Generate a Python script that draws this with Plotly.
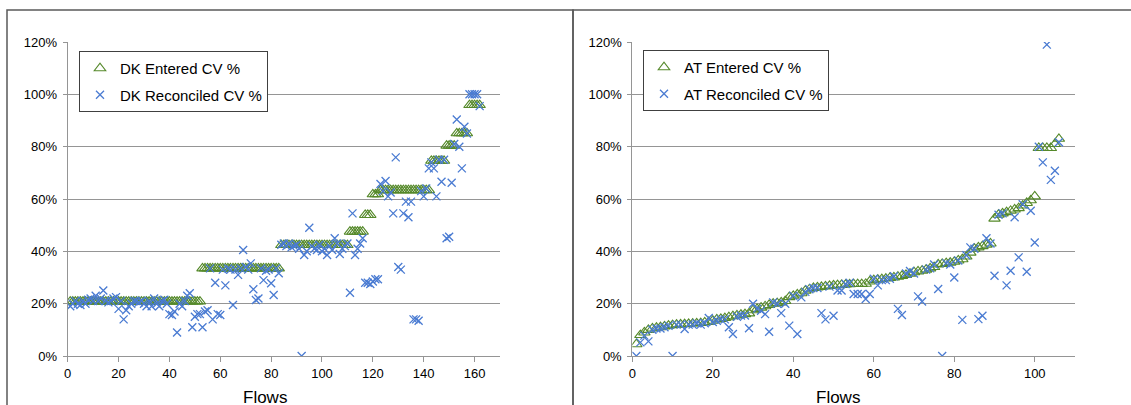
import plotly.graph_objects as go

# ---------------- DATA ----------------
dk_flows = list(range(1, 163))
dk_entered = ([20.8] * 52 + [33.5] * 31 + [42.4] * 27 + [47.5] * 6 + [53.9] * 3 +
              [61.8] * 3 + [63.4] * 20 + [74.6] * 6 + [80.4] * 4 + [85.1] * 5 + [95.9] * 5)
dk_reconciled = [
    19, 20, 21, 20, 19.5, 21, 20, 21.5, 22, 21,
    23, 21, 22, 25, 21, 20.5, 21, 22, 22.5, 18,
    21, 14, 17.5, 19, 20, 21, 21, 20.5, 21, 20,
    19, 21, 19, 22, 20, 19, 21, 21.5, 20, 16,
    15.7, 17, 9, 20, 19, 21, 23, 24, 11, 15,
    16, 16, 11, 17, 17.5, 33.5, 14, 28, 16, 15.7,
    33, 27, 33.5, 33, 19.5, 33, 31, 33.5, 40.5, 34,
    33, 35.4, 25.5, 21.4, 22, 33.5, 29, 32.6, 33, 27.8,
    23.3, 33.5, 31.6, 42.5, 43, 42, 43, 41.5, 42, 42.5,
    41, 0, 38.6, 40, 49, 42, 41, 40.5, 42.5, 40,
    41, 38.6, 42, 40.5, 45, 43, 39, 41, 42, 43,
    24.2, 54.5, 38.6, 41, 43, 45, 28, 28, 27.5, 28.5,
    29.3, 29.3, 65.7, 63, 66.9, 61, 62.5, 54.5, 75.9, 34,
    33, 54.5, 59, 53, 59, 14, 14, 13.5, 63, 61,
    64, 71.7, 74, 71.7, 61, 75, 66.6, 75, 45, 45.6,
    66.2, 81, 90.4, 80, 71.7, 87.6, 85, 100, 100, 100,
    100, 95.5,
]

at_flows = list(range(1, 107))
at_entered = [
    4.5, 8, 9, 10, 10.5, 10.8, 11, 11.3, 11.6, 11.8,
    12, 12.1, 12.2, 12.3, 12.4, 12.5, 12.6, 12.8, 13, 13.5,
    14, 14.2, 14.5, 14.8, 15.2, 15.5, 15.8, 16, 16.3, 17.5,
    18, 18.5, 19, 19.5, 20, 20.2, 20.5, 21, 22.5, 23,
    23.5, 24, 25, 25.5, 26, 26.2, 26.4, 26.6, 26.8, 27,
    27.1, 27.2, 27.3, 27.4, 27.5, 27.5, 27.5, 27.6, 28.5, 29,
    29.2, 29.4, 29.6, 29.8, 30, 30.3, 30.6, 31, 31.5, 32,
    32.3, 32.6, 33, 33.5, 34, 35, 35.2, 35.5, 35.7, 36,
    36.5, 37, 38, 39.5, 41, 41.5, 42, 42.5, 43, 52.5,
    54, 54.5, 55, 55.5, 56, 56.5, 57.5, 58.5, 59.5, 61,
    79.5, 79.5, 79.5, 79.5, 81, 83,
]
at_reconciled = [
    0, 5.2, 7.8, 5.6, 10, 10.5, 10.5, 11, 11.5, 0,
    12, 12, 10.3, 12, 12, 12.5, 12, 12.5, 14.5, 13,
    13.5, 14, 14, 11, 8.4, 15, 15.5, 15.5, 10.6, 20,
    18, 17.3, 16, 9.3, 20.5, 20, 16.4, 20, 11.6, 23,
    8.4, 22.4, 24.5, 25.5, 26, 26, 16.4, 14, 26.5, 15.4,
    25, 25, 27.5, 28, 23.7, 23.7, 23.7, 21.8, 23.7, 29.5,
    27, 29, 29, 29.5, 30.5, 18, 15.7, 31.5, 32.5, 31.5,
    22.8, 20.8, 33, 33.5, 35, 25.6, 0, 35.5, 35, 30,
    36.5, 13.8, 38.5, 41.5, 41, 14.1, 15.4, 45, 43, 30.7,
    54, 54.5, 27, 32.6, 53, 37.7, 58, 32.2, 55.5, 43.4,
    80, 74, 119, 67.3, 70.8, 81.7,
]

y_ticks = [0, 20, 40, 60, 80, 100, 120]
y_tick_labels = ["0%", "20%", "40%", "60%", "80%", "100%", "120%"]
dk_x_ticks = [0, 20, 40, 60, 80, 100, 120, 140, 160]
at_x_ticks = [0, 20, 40, 60, 80, 100]

# ---------------- STYLE ----------------
W, H = 1131, 405
FONT = "Arial, Liberation Sans, sans-serif"
GREEN = "#55892a"
BLUE = "#4a7bd2"
GRID = "#959595"
FRAME = "#5a5a5a"


def px_x(p):
    return p / W


def px_y(p):
    return (H - p) / H


tri = dict(symbol="triangle-up-open", size=10, color=GREEN, line=dict(color=GREEN, width=1.1))
crs = dict(symbol="x-thin-open", size=8, color=BLUE, line=dict(color=BLUE, width=1.3))

fig = go.Figure()
fig.add_trace(go.Scatter(x=dk_flows, y=dk_entered, mode="markers", marker=tri,
                         name="DK Entered CV %", xaxis="x", yaxis="y",
                         legend="legend", legendgroup="a"))
fig.add_trace(go.Scatter(x=dk_flows, y=dk_reconciled, mode="markers", marker=crs,
                         name="DK Reconciled CV %", xaxis="x", yaxis="y",
                         legend="legend", legendgroup="b"))
fig.add_trace(go.Scatter(x=at_flows, y=at_entered, mode="markers", marker=tri,
                         name="AT Entered CV %", xaxis="x2", yaxis="y2",
                         legend="legend2", legendgroup="c"))
fig.add_trace(go.Scatter(x=at_flows, y=at_reconciled, mode="markers", marker=crs,
                         name="AT Reconciled CV %", xaxis="x2", yaxis="y2",
                         legend="legend2", legendgroup="d"))

xcommon = dict(showgrid=False, zeroline=False, showline=True, linecolor=GRID, linewidth=1,
               ticks="outside", ticklen=5, tickcolor=GRID, automargin=False,
               tickmode="array", tickfont=dict(family=FONT, size=13, color="#000"))
ycommon = dict(range=[0, 120], tickmode="array", tickvals=y_ticks, ticktext=y_tick_labels,
               showgrid=True, gridcolor=GRID, gridwidth=1, zeroline=False, showline=True,
               linecolor=GRID, linewidth=1, ticks="outside", ticklen=4, tickcolor=GRID,
               automargin=False, ticklabelstandoff=3,
               tickfont=dict(family=FONT, size=13, color="#000"))

legcommon = dict(xanchor="left", yanchor="top", bordercolor="#404040", borderwidth=1,
                 bgcolor="white", font=dict(family=FONT, size=15, color="#000"),
                 tracegroupgap=4, itemwidth=30)

fig.update_layout(
    width=W, height=H,
    margin=dict(l=0, r=0, t=0, b=0, pad=0, autoexpand=False),
    paper_bgcolor="white", plot_bgcolor="white",
    showlegend=True,
    xaxis=dict(domain=[px_x(67.7), px_x(500)], range=[0, 170], tickvals=dk_x_ticks,
               anchor="y", **xcommon),
    yaxis=dict(domain=[px_y(356), px_y(42)], anchor="x", **ycommon),
    xaxis2=dict(domain=[px_x(632.3), px_x(1075)], range=[0, 110], tickvals=at_x_ticks,
                anchor="y2", **xcommon),
    yaxis2=dict(domain=[px_y(356), px_y(42)], anchor="x2", **ycommon),
    legend=dict(x=px_x(79), y=px_y(51), **legcommon),
    legend2=dict(x=px_x(643), y=px_y(50), **legcommon),
    shapes=[
        dict(type="rect", xref="paper", yref="paper", x0=px_x(7), x1=px_x(573),
             y0=px_y(420), y1=px_y(10), line=dict(color=FRAME, width=1.5)),
        dict(type="rect", xref="paper", yref="paper", x0=px_x(573), x1=px_x(1140),
             y0=px_y(420), y1=px_y(10), line=dict(color=FRAME, width=1.5)),
    ],
    annotations=[
        dict(text="Flows", xref="paper", yref="paper", x=px_x(265), y=px_y(386),
             xanchor="center", yanchor="top", showarrow=False,
             font=dict(family=FONT, size=17, color="#000")),
        dict(text="Flows", xref="paper", yref="paper", x=px_x(838), y=px_y(386),
             xanchor="center", yanchor="top", showarrow=False,
             font=dict(family=FONT, size=17, color="#000")),
    ],
)

fig.write_html("out.html", config={"displayModeBar": False},
               post_script="document.body.style.margin='0px';")
